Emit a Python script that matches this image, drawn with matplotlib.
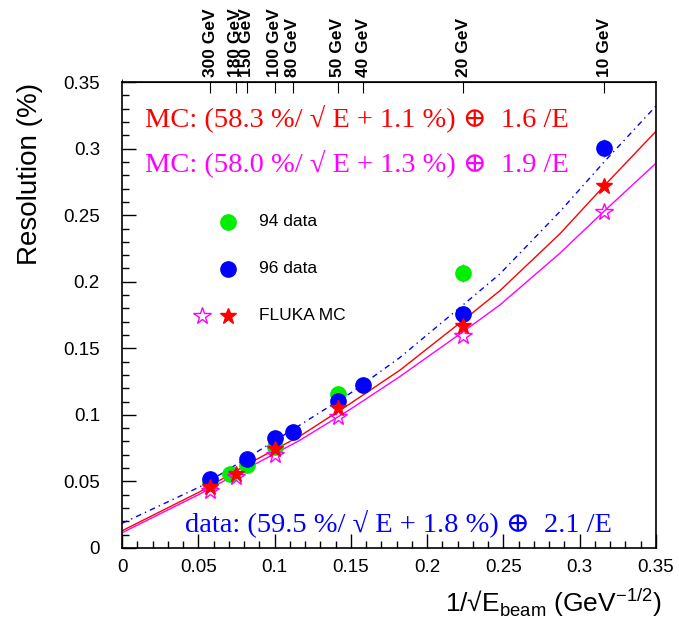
import numpy as np
import matplotlib
matplotlib.use('Agg')
import matplotlib.pyplot as plt
from matplotlib.ticker import MultipleLocator, FuncFormatter

plt.rcParams['font.family'] = ['Liberation Sans', 'DejaVu Sans']

# beam energies shown on the top axis
top_energies = [300, 180, 150, 100, 80, 50, 40, 20, 10]
top_labels = ['%d GeV' % e for e in top_energies]

# 96 data (blue)
e96 = [300, 150, 100, 80, 50, 40, 20, 10]
res96 = [0.0518, 0.0669, 0.0826, 0.0872, 0.1103, 0.1225, 0.1758, 0.3005]
err96 = [0.003, 0.003, 0.003, 0.003, 0.004, 0.003, 0.006, 0.007]

# 94 data (green)
e94 = [300, 200, 150, 100, 50, 20]
res94 = [0.0488, 0.0556, 0.0624, 0.0759, 0.1155, 0.2066]
err94 = [0.003, 0.003, 0.003, 0.003, 0.004, 0.007]

# FLUKA MC, two versions
e_mc = [300, 180, 100, 50, 20, 10]
res_mc_red = [0.0458, 0.0556, 0.0744, 0.1050, 0.1668, 0.2720]
res_mc_mag = [0.0428, 0.0533, 0.0699, 0.0987, 0.1593, 0.2524]

# fitted curves
x_fit = [0.0, 0.051, 0.0839, 0.1166, 0.1493, 0.182, 0.2236, 0.2477, 0.287, 0.316, 0.35]
fit_red = [0.0130, 0.0423, 0.0640, 0.0841, 0.1083, 0.1335, 0.1710, 0.1933, 0.2360, 0.2720, 0.3130]
fit_mag = [0.0115, 0.0406, 0.0610, 0.0810, 0.1040, 0.1287, 0.1625, 0.1826, 0.2214, 0.2530, 0.2890]
fit_blue = [0.0186, 0.0460, 0.0690, 0.0924, 0.1160, 0.1430, 0.1827, 0.2059, 0.2527, 0.2900, 0.3320]

inv_sqrt = lambda e: 1.0 / np.sqrt(np.array(e, dtype=float))
serif = ['Liberation Serif', 'DejaVu Serif', 'DejaVu Sans']

fig = plt.figure(figsize=(6.79, 6.22), dpi=100)
ax = fig.add_axes([0.180, 0.119, 0.786, 0.749])

ax.plot(x_fit, fit_blue, color='blue', lw=1.0, dashes=[4, 3, 1, 3])
ax.plot(x_fit, fit_red, color='red', lw=1.0)
ax.plot(x_fit, fit_mag, color='magenta', lw=1.0)

ax.errorbar(inv_sqrt(e94), res94, yerr=err94, fmt='o', color='#00ee00',
            ms=11, ecolor='grey', elinewidth=1, capsize=0, zorder=3)
ax.errorbar(inv_sqrt(e96), res96, yerr=err96, fmt='o', color='blue',
            ms=11, ecolor='grey', elinewidth=1, capsize=0, zorder=4)
ax.plot(inv_sqrt(e_mc), res_mc_mag, '*', ms=13, mfc='none', mec='magenta',
        mew=1.0, zorder=5)
ax.plot(inv_sqrt(e_mc), res_mc_red, '*', ms=12, color='red', zorder=6)

# hand-made legend
ax.plot([0.198], [0.700], 'o', color='#00ee00', ms=11, transform=ax.transAxes)
ax.plot([0.198], [0.599], 'o', color='blue', ms=11, transform=ax.transAxes)
ax.plot([0.149], [0.498], '*', ms=13, mfc='none', mec='magenta', mew=1.0,
        transform=ax.transAxes)
ax.plot([0.198], [0.498], '*', ms=12, color='red', transform=ax.transAxes)
for yy, s in zip([0.700, 0.599, 0.498], ['94 data', '96 data', 'FLUKA MC']):
    ax.text(0.257, yy, s, transform=ax.transAxes, fontsize=12.5,
            va='center', ha='left')

ax.text(0.042, 0.923, 'MC: (58.3 %/ \u221a E + 1.1 %) \u2295  1.6 /E',
        transform=ax.transAxes, color='red', fontsize=20.5,
        family=serif, va='center')
ax.text(0.042, 0.826, 'MC: (58.0 %/ \u221a E + 1.3 %) \u2295  1.9 /E',
        transform=ax.transAxes, color='magenta', fontsize=20.5,
        family=serif, va='center')
ax.text(0.117, 0.054, 'data: (59.5 %/ \u221a E + 1.8 %) \u2295  2.1 /E',
        transform=ax.transAxes, color='blue', fontsize=20.5,
        family=serif, va='center')

fmt = FuncFormatter(lambda v, p: ('%.2f' % v).rstrip('0').rstrip('.'))
ax.set_xlim(0, 0.35)
ax.set_ylim(0, 0.35)
for a in (ax.xaxis, ax.yaxis):
    a.set_major_locator(MultipleLocator(0.05))
    a.set_minor_locator(MultipleLocator(0.01))
    a.set_major_formatter(fmt)
ax.tick_params(which='both', direction='in', top=False, right=False,
               labelsize=13.5, width=1)
ax.tick_params(which='major', length=10)
ax.tick_params(axis='x', which='major', pad=8)
ax.tick_params(axis='y', which='major', pad=16)
ax.tick_params(which='minor', length=5)
for sp in ax.spines.values():
    sp.set_linewidth(1.2)

top = ax.secondary_xaxis('top')
top.set_xticks(inv_sqrt(top_energies))
top.set_xticklabels(top_labels, rotation=90, fontsize=12.5, fontweight='bold')
top.tick_params(direction='in', length=8, pad=4)
top.xaxis.set_minor_locator(MultipleLocator(10))

fig.text(0.044, 0.72, 'Resolution (%)', rotation=90, fontsize=20,
         ha='center', va='center')
fig.text(0.975, 0.031, '1/\u221aE$_{\\mathregular{beam}}$ (GeV$^{\\mathregular{-1/2}}$)',
         fontsize=19, ha='right', va='center')

fig.savefig('out.png', dpi=100)
